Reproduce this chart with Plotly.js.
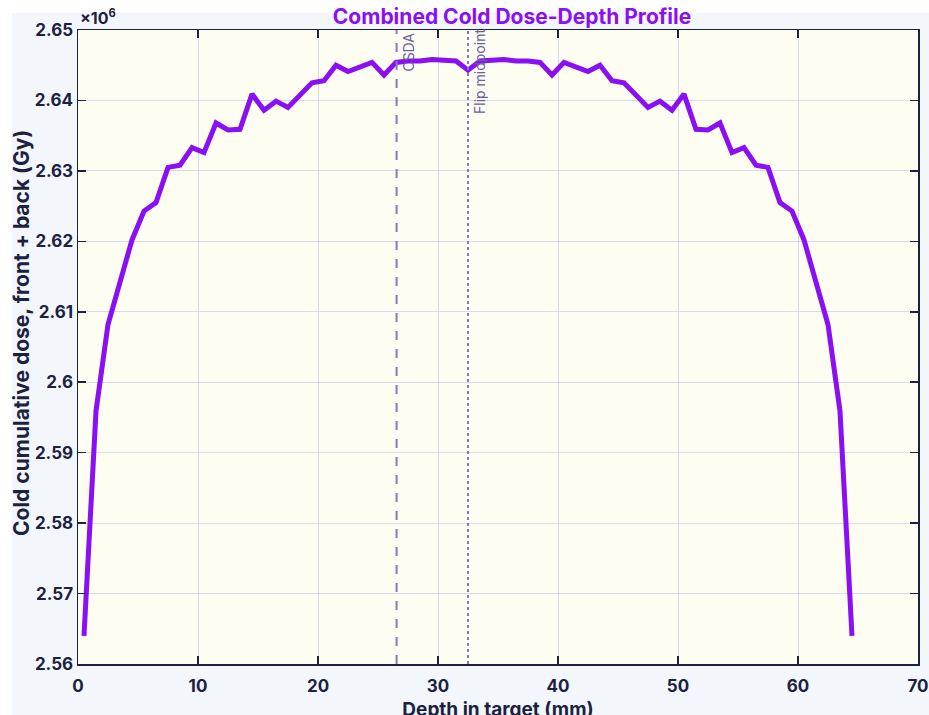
<!DOCTYPE html>
<html>
<head>
<meta charset="utf-8">
<script src="https://cdn.plot.ly/plotly-3.0.1.min.js"></script>
<style>
  html, body { margin: 0; padding: 0; background: #ffffff; overflow: hidden; width: 929px; height: 715px; }
  #bg { position: absolute; left: 12px; top: 13px; width: 940px; height: 720px; background: #f3f7fc; }
  #chart { position: absolute; left: 0; top: 0; width: 929px; height: 730px; }
</style>
</head>
<body>
<div id="bg"></div>
<div id="chart"></div>
<script>
// Depth positions (mm)
const depth = [0.5,1.5,2.5,3.5,4.5,5.5,6.5,7.5,8.5,9.5,10.5,11.5,12.5,13.5,14.5,15.5,16.5,17.5,18.5,19.5,20.5,21.5,22.5,23.5,24.5,25.5,26.5,27.5,28.5,29.5,30.5,31.5,32.5,33.5,34.5,35.5,36.5,37.5,38.5,39.5,40.5,41.5,42.5,43.5,44.5,45.5,46.5,47.5,48.5,49.5,50.5,51.5,52.5,53.5,54.5,55.5,56.5,57.5,58.5,59.5,60.5,61.5,62.5,63.5,64.5];
// Combined cold cumulative dose (units of 1e6 Gy)
const doseE6 = [2.5640,2.5959,2.6082,2.6145,2.6202,2.6243,2.6255,2.6305,2.6308,2.6333,2.6326,2.6368,2.6358,2.6359,2.6409,2.6386,2.6399,2.6390,2.6408,2.6425,2.6428,2.6450,2.6441,2.6448,2.6454,2.6436,2.6454,2.6456,2.6456,2.6458,2.6457,2.6456,2.6443,2.6456,2.6457,2.6458,2.6456,2.6456,2.6454,2.6436,2.6454,2.6448,2.6441,2.6450,2.6428,2.6425,2.6408,2.6390,2.6399,2.6386,2.6409,2.6359,2.6358,2.6368,2.6326,2.6333,2.6308,2.6305,2.6255,2.6243,2.6202,2.6145,2.6082,2.5959,2.5640];
// Reference lines
const csdaDepth = 26.55;
const flipDepth = 32.5;
// Tick labels
const xTicks = [0,10,20,30,40,50,60,70];
const yTicks = [2.56,2.57,2.58,2.59,2.60,2.61,2.62,2.63,2.64,2.65];
const yTickText = ['2.56','2.57','2.58','2.59','2.6','2.61','2.62','2.63','2.64','2.65'];

const ink = '#1c2140';
const refColor = '#8679bf';
const fontFam = 'Inter, "Liberation Sans", Arial, sans-serif';

const traces = [{
  x: depth, y: doseE6, type: 'scatter', mode: 'lines',
  line: { color: '#8a0ff2', width: 5 },
  hoverinfo: 'skip', showlegend: false
}];

const layout = {
  width: 929, height: 730,
  margin: { l: 78, r: 11, t: 30, b: 66 },
  paper_bgcolor: 'rgba(0,0,0,0)',
  plot_bgcolor: '#fdfdf1',
  font: { family: fontFam, color: ink },
  title: {
    text: '<b>Combined Cold Dose-Depth Profile</b>',
    font: { family: fontFam, size: 21, color: '#8a0ff2' },
    x: 512/929, xanchor: 'center', xref: 'container',
    y: 1 - 17/730, yanchor: 'middle', yref: 'container'
  },
  xaxis: {
    range: [0, 70], tickvals: xTicks, ticktext: xTicks.map(String),
    ticks: 'inside', ticklen: 8, tickwidth: 1.5, tickcolor: ink,
    showline: true, linecolor: ink, linewidth: 1.5, mirror: 'ticks',
    showgrid: true, gridcolor: '#d6dcea', gridwidth: 1,
    zeroline: false, ticklabelstandoff: 6,
    tickfont: { family: fontFam, size: 17, color: ink, weight: 'bold' },
    title: { text: '<b>Depth in target (mm)</b>', font: { family: fontFam, size: 19, color: ink }, standoff: 8 }
  },
  yaxis: {
    range: [2.56, 2.65], tickvals: yTicks, ticktext: yTickText,
    ticks: 'inside', ticklen: 8, tickwidth: 1.5, tickcolor: ink,
    showline: true, linecolor: ink, linewidth: 1.5, mirror: 'ticks',
    showgrid: true, gridcolor: '#d6dcea', gridwidth: 1,
    zeroline: false,
    tickfont: { family: fontFam, size: 17, color: ink, weight: 'bold' }
  },
  shapes: [
    { type: 'line', xref: 'x', yref: 'paper', x0: csdaDepth, x1: csdaDepth, y0: 0, y1: 1,
      line: { color: refColor, width: 2, dash: 'dash' } },
    { type: 'line', xref: 'x', yref: 'paper', x0: flipDepth, x1: flipDepth, y0: 0, y1: 1,
      line: { color: refColor, width: 2, dash: 'dot' } }
  ],
  annotations: [
    { x: csdaDepth, y: 1, xref: 'x', yref: 'paper', text: 'CSDA', textangle: -90,
      showarrow: false, xanchor: 'left', yanchor: 'top', xshift: 1, yshift: -1,
      font: { family: fontFam, size: 14, color: '#6a5da6' } },
    { x: flipDepth, y: 1, xref: 'x', yref: 'paper', text: 'Flip midpoint', textangle: -90,
      showarrow: false, xanchor: 'left', yanchor: 'top', xshift: 1, yshift: 3,
      font: { family: fontFam, size: 14, color: '#6a5da6' } },
    { x: 0, y: 1, xref: 'paper', yref: 'paper', text: '<b>×10<sup>6</sup></b>',
      showarrow: false, xanchor: 'left', yanchor: 'bottom', yshift: 0,
      font: { family: fontFam, size: 16, color: ink } },
    { x: (21 - 78) / 840, y: (664 - 333) / 634, xref: 'paper', yref: 'paper',
      text: '<b>Cold cumulative dose, front + back (Gy)</b>', textangle: -90,
      showarrow: false, xanchor: 'center', yanchor: 'middle',
      font: { family: fontFam, size: 21, color: ink } }
  ]
};

Plotly.newPlot('chart', traces, layout, { displayModeBar: false, staticPlot: true });
</script>
</body>
</html>
